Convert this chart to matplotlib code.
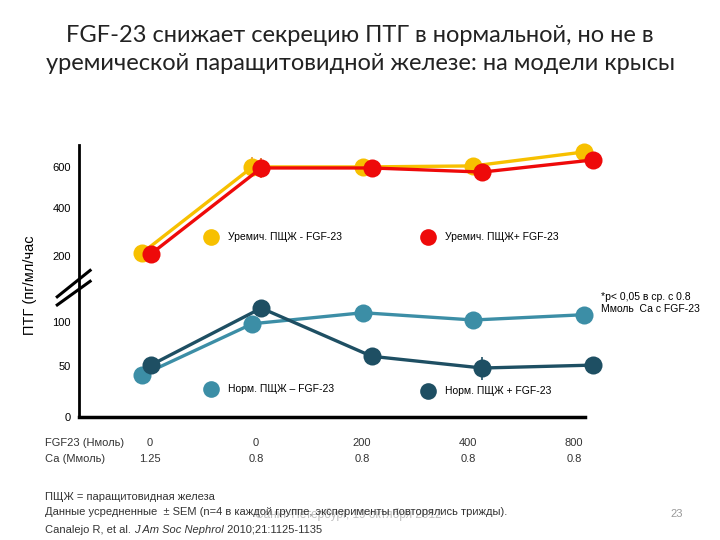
import numpy as np
import matplotlib
matplotlib.use('Agg')
import matplotlib.pyplot as plt

# data (pg/ml/h)
groups = [0, 1, 2, 3, 4]
fgf23_nm = ['0', '0', '200', '400', '800']
ca_mm = ['1.25', '0.8', '0.8', '0.8', '0.8']

urem_minus = [212, 600, 600, 605, 673]
urem_plus = [208, 595, 595, 575, 634]
norm_minus = [41, 98, 114, 103, 111]
norm_plus = [51, 121, 61, 48, 51]

urem_minus_err = [0, 50, 0, 0, 0]
urem_plus_err = [0, 50, 0, 0, 0]
norm_plus_err = [0, 0, 0, 12, 12]

yticks = [0, 50, 100, 200, 400, 600]

# broken axis -> piecewise linear scale
scale_v = np.array([0, 50, 100, 200, 400, 600, 800, 2000])
scale_p = np.array([0, 51, 95, 161, 209, 250, 291, 537])

def fwd(v):
    return np.interp(v, scale_v, scale_p)

def inv(p):
    return np.interp(p, scale_p, scale_v)

c_yel = '#F7C000'
c_red = '#EE0A0A'
c_lt = '#3C8EA6'
c_dk = '#1E4F63'

fig = plt.figure(figsize=(7.2, 5.4), dpi=100)
ax = fig.add_axes([79/720, 1-417/540, 506/720, 272/540])
ax.set_yscale('function', functions=(fwd, inv))
ax.set_ylim(0, 707)
ax.set_xlim(-0.61, 3.97)

x = np.array(groups, dtype=float)
off = 0.04
kw = dict(lw=2.4, marker='o', ms=13, clip_on=False, mec='none')
ax.plot(x - off, urem_minus, color=c_yel, zorder=3, **kw)
ax.plot(x + off, urem_plus, color=c_red, zorder=4, **kw)
ax.plot(x - off, norm_minus, color=c_lt, zorder=3, **kw)
ax.plot(x + off, norm_plus, color=c_dk, zorder=4, **kw)

ax.errorbar(x - off, urem_minus, yerr=urem_minus_err, fmt='none', ecolor='#E8A040', elinewidth=1.3, zorder=2)
ax.errorbar(x + off, urem_plus, yerr=urem_plus_err, fmt='none', ecolor='#E07030', elinewidth=1.3, zorder=2)
ax.errorbar(x + off, norm_plus, yerr=norm_plus_err, fmt='none', ecolor=c_dk, elinewidth=1.2, zorder=2)

ax.set_yticks(yticks)
ax.set_yticklabels([str(t) for t in yticks], fontfamily='Liberation Sans', fontsize=8)
ax.tick_params(axis='y', length=0, pad=6)
ax.set_xticks([])
for s in ['top', 'right']:
    ax.spines[s].set_visible(False)
ax.spines['left'].set_linewidth(2)
ax.spines['bottom'].set_linewidth(2.5)

# break marks on the y axis
bk = dict(color='black', lw=2.2, transform=ax.transAxes, clip_on=False)
ax.plot([-0.043, 0.022], [0.442, 0.539], **bk)
ax.plot([-0.043, 0.022], [0.412, 0.499], **bk)

fig.text(30/720, 1-285/540, 'ПТГ (пг/мл/час', fontfamily='Liberation Sans', fontsize=10.5,
         rotation=90, ha='center', va='center')

# in-plot legend
leg = [(211, 237, c_yel, 'Уремич. ПЩЖ - FGF-23'),
       (428, 237, c_red, 'Уремич. ПЩЖ+ FGF-23'),
       (211, 389, c_lt, 'Норм. ПЩЖ – FGF-23'),
       (428, 391, c_dk, 'Норм. ПЩЖ + FGF-23')]
for px, py, col, lab in leg:
    fig.lines.append(plt.Line2D([px/720], [1-py/540], marker='o', ms=12, color=col, mec='none',
                                transform=fig.transFigure))
    fig.text((px+17)/720, 1-py/540, lab, fontfamily='Liberation Sans', fontsize=7.5, va='center')

fig.text(601/720, 1-303/540, '*p< 0,05 в ср. с 0.8\nМмоль  Са с FGF-23',
         fontfamily='Liberation Sans', fontsize=7.5, va='center', linespacing=1.2)

# title
fig.text(0.5, 1-36/540, 'FGF-23 снижает секрецию ПТГ в нормальной, но не в',
         fontfamily='Lato', fontsize=17, ha='center', va='center', color='#222222')
fig.text(0.5, 1-63/540, 'уремической паращитовидной железе: на модели крысы',
         fontfamily='Lato', fontsize=17, ha='center', va='center', color='#222222')

# x condition labels
tf = dict(fontfamily='Liberation Sans', fontsize=8, va='center', color='#333333')
fig.text(45/720, 1-443/540, 'FGF23 (Нмоль)', **tf)
fig.text(45/720, 1-459/540, 'Са (Ммоль)', **tf)
for i, (f, c) in enumerate(zip(fgf23_nm, ca_mm)):
    cx = (150 + 106*i) / 720
    fig.text(cx, 1-443/540, f, ha='center', **tf)
    fig.text(cx, 1-459/540, c, ha='center', **tf)

# footnotes
fig.text(45/720, 1-497/540, 'ПЩЖ = паращитовидная железа', **tf)
fig.text(45/720, 1-512/540, 'Данные усредненные  ± SEM (n=4 в каждой группе, эксперименты повторялись трижды).', **tf)
fig.text(255/720, 1-515/540, 'Санкт-Петербург, 19 октября 2012', fontfamily='Liberation Sans', fontsize=8.5,
         va='center', color='#c0c0c0', zorder=-1)
t1 = fig.text(45/720, 1-530/540, 'Canalejo R, et al. ', **tf)
an2 = fig.text(0, 0.5, 'J Am Soc Nephrol', transform=t1.get_transform(), fontstyle='italic', **tf)
an2.remove()
an2 = plt.annotate('J Am Soc Nephrol', xy=(1, 0.5), xycoords=t1, va='center', ha='left',
                   fontstyle='italic', fontfamily='Liberation Sans', fontsize=8, color='#333333',
                   annotation_clip=False)
plt.annotate(' 2010;21:1125-1135', xy=(1, 0.5), xycoords=an2, va='center', ha='left',
             fontfamily='Liberation Sans', fontsize=8, color='#333333', annotation_clip=False)
fig.text(670/720, 1-514/540, '23', fontfamily='Liberation Sans', fontsize=8, va='center', color='#999999')

fig.savefig('out.png', dpi=100)
